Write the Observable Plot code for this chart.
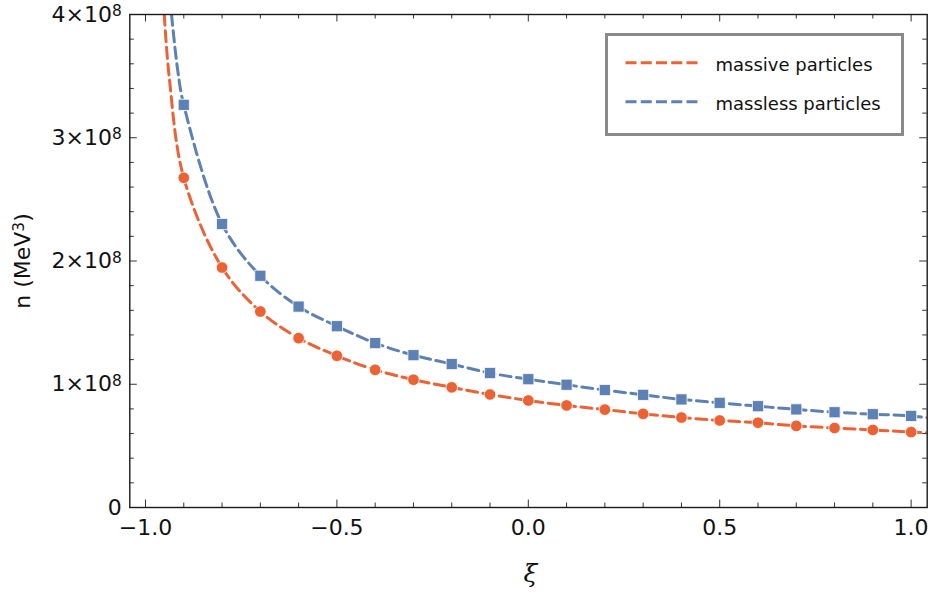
<!DOCTYPE html>
<html><head><meta charset="utf-8">
<script src="https://cdn.jsdelivr.net/npm/d3@7"></script>
<script src="https://cdn.jsdelivr.net/npm/@observablehq/plot@0.6"></script>
<style>
body{margin:0;background:#fff;}
#wrap{position:relative;width:943px;height:593px;}
#legend{position:absolute;left:605px;top:33px;width:293px;height:97px;border:3.5px solid #8a8a8a;background:#fff;}
#legend svg{position:absolute;left:0;top:0;}
</style></head><body>
<div id="wrap"><div id="legend"></div></div>
<script>
// ---- data (n in units of 10^8 MeV^3) ----
const seriesNames = ["massive particles", "massless particles"];
const seriesColors = ["#EB6235", "#5E81B5"];
const xiPoints = [-0.9, -0.8, -0.7, -0.6, -0.5, -0.4, -0.3, -0.2, -0.1, 0.0, 0.1, 0.2, 0.3, 0.4, 0.5, 0.6, 0.7, 0.8, 0.9, 1.0];
const massiveN = [2.675, 1.947, 1.59, 1.374, 1.231, 1.117, 1.037, 0.975, 0.917, 0.868, 0.828, 0.794, 0.760, 0.730, 0.706, 0.688, 0.662, 0.645, 0.629, 0.612];
const masslessN = [3.267, 2.30, 1.88, 1.63, 1.471, 1.334, 1.236, 1.164, 1.091, 1.041, 0.996, 0.953, 0.914, 0.877, 0.849, 0.822, 0.796, 0.773, 0.757, 0.743];
// extra points (top edge and right edge)
const massiveCurveXi = [-0.951, -0.938, 1.042];
const massiveCurveN = [4.0, 3.49, 0.606];
const masslessCurveXi = [-0.932, -0.916, 1.042];
const masslessCurveN = [4.0, 3.55, 0.728];
// axis ticks
const xTicks = [-1.0, -0.5, 0.0, 0.5, 1.0];
const xMinorTicks = [-0.9, -0.8, -0.7, -0.6, -0.4, -0.3, -0.2, -0.1, 0.1, 0.2, 0.3, 0.4, 0.6, 0.7, 0.8, 0.9];
const yTicks = [0, 1e8, 2e8, 3e8, 4e8];
const yMinorTicks = [0.2e8, 0.4e8, 0.6e8, 0.8e8, 1.2e8, 1.4e8, 1.6e8, 1.8e8, 2.2e8, 2.4e8, 2.6e8, 2.8e8, 3.2e8, 3.4e8, 3.6e8, 3.8e8];
const xLabel = "ξ";
const yLabel = "n (MeV^3)";

// ---- build tables ----
const pts = (ns, s) => xiPoints.map((x, i) => ({xi: x, n: ns[i] * 1e8, s}));
const massivePts = pts(massiveN, 0);
const masslessPts = pts(masslessN, 1);
const curve = (p, cx, cn, s) => p.concat(cx.map((x, i) => ({xi: x, n: cn[i] * 1e8, s}))).sort((a, b) => a.xi - b.xi);
const massiveCurve = curve(massivePts, massiveCurveXi, massiveCurveN, 0);
const masslessCurve = curve(masslessPts, masslessCurveXi, masslessCurveN, 1);

const W = 943, H = 593, mL = 129.3, mR = 16.3, mT = 14, mB = 86;
const fh = H - mT - mB, fw = W - mL - mR;
const major = 7.5, minor = 4.5;
const tickColor = "#333";
const dash = "11,5.5";

const chart = Plot.plot({
  width: W, height: H,
  marginLeft: mL, marginRight: mR, marginTop: mT, marginBottom: mB,
  x: {domain: [-1.041, 1.042]},
  y: {domain: [0, 4e8]},
  style: {fontFamily: "DejaVu Sans", fontSize: "22px", background: "white", color: "#111"},
  marks: [
    Plot.line(massiveCurve, {x: "xi", y: "n", stroke: seriesColors[0], strokeWidth: 3, strokeDasharray: dash, curve: "catmull-rom", clip: true}),
    Plot.line(masslessCurve, {x: "xi", y: "n", stroke: seriesColors[1], strokeWidth: 3, strokeDasharray: dash, curve: "catmull-rom", clip: true}),
    Plot.dot(massivePts, {x: "xi", y: "n", r: 5.8, symbol: "circle", fill: seriesColors[0], stroke: "white", strokeWidth: 0.8}),
    Plot.dot(masslessPts, {x: "xi", y: "n", r: 6.3, symbol: "square", fill: seriesColors[1], stroke: "white", strokeWidth: 0.8}),
    // ticks (inward, on all four sides)
    Plot.tickX(xTicks, {x: d => d, insetTop: fh - major, stroke: tickColor}),
    Plot.tickX(xMinorTicks, {x: d => d, insetTop: fh - minor, stroke: tickColor}),
    Plot.tickX(xTicks, {x: d => d, insetBottom: fh - major, stroke: tickColor}),
    Plot.tickX(xMinorTicks, {x: d => d, insetBottom: fh - minor, stroke: tickColor}),
    Plot.tickY(yTicks, {y: d => d, insetRight: fw - major, stroke: tickColor}),
    Plot.tickY(yMinorTicks, {y: d => d, insetRight: fw - minor, stroke: tickColor}),
    Plot.tickY(yTicks, {y: d => d, insetLeft: fw - major, stroke: tickColor}),
    Plot.tickY(yMinorTicks, {y: d => d, insetLeft: fw - minor, stroke: tickColor}),
    Plot.frame({stroke: "#1a1a1a", strokeWidth: 1.4}),
    Plot.axisX({ticks: xTicks, tickSize: 0, tickPadding: 12, tickFormat: d3.format(".1f"), label: null}),
    Plot.axisY({ticks: yTicks, tickSize: 0, tickPadding: 8, tickFormat: d => d === 0 ? "0" : `${d / 1e8}×10^8`, label: null}),
    Plot.text([yLabel], {text: d => d, frameAnchor: "left", rotate: -90, dx: -100, textAnchor: "middle", lineAnchor: "bottom", fontSize: 22, fill: "#111"}),
    Plot.text([xLabel], {text: d => d, frameAnchor: "bottom", dx: 2, dy: 74.5, lineAnchor: "bottom", fontFamily: "DejaVu Serif", fontStyle: "italic", fontSize: 25, fill: "#111"})
  ]
});
document.getElementById("wrap").prepend(chart);

// superscripts written as "^" in the texts above
chart.querySelectorAll("text").forEach(t => {
  if (t.children.length === 0 && t.textContent.includes("^")) {
    const s = t.textContent;
    const i = s.indexOf("^");
    const base = s.slice(0, i), exp = s.slice(i + 1, i + 2), rest = s.slice(i + 2);
    t.textContent = base;
    const ts = document.createElementNS("http://www.w3.org/2000/svg", "tspan");
    ts.setAttribute("dy", "-0.36em");
    ts.setAttribute("font-size", "0.7em");
    ts.textContent = exp;
    t.appendChild(ts);
    if (rest) {
      const tr = document.createElementNS("http://www.w3.org/2000/svg", "tspan");
      tr.setAttribute("dy", "0.252em");
      tr.textContent = rest;
      t.appendChild(tr);
    }
  }
});

// legend
const lg = d3.select("#legend").append("svg").attr("width", 293).attr("height", 97);
const rowsY = [26.8, 65.8];
seriesNames.forEach((name, i) => {
  lg.append("line").attr("x1", 17.5).attr("x2", 89.5).attr("y1", rowsY[i]).attr("y2", rowsY[i])
    .attr("stroke", seriesColors[i]).attr("stroke-width", 3).attr("stroke-dasharray", "11,4.25");
  lg.append("text").attr("x", 107.5).attr("y", rowsY[i] + 7.8).attr("font-family", "DejaVu Sans")
    .attr("font-size", 18).attr("fill", "#111").text(name);
});
</script>
</body></html>
